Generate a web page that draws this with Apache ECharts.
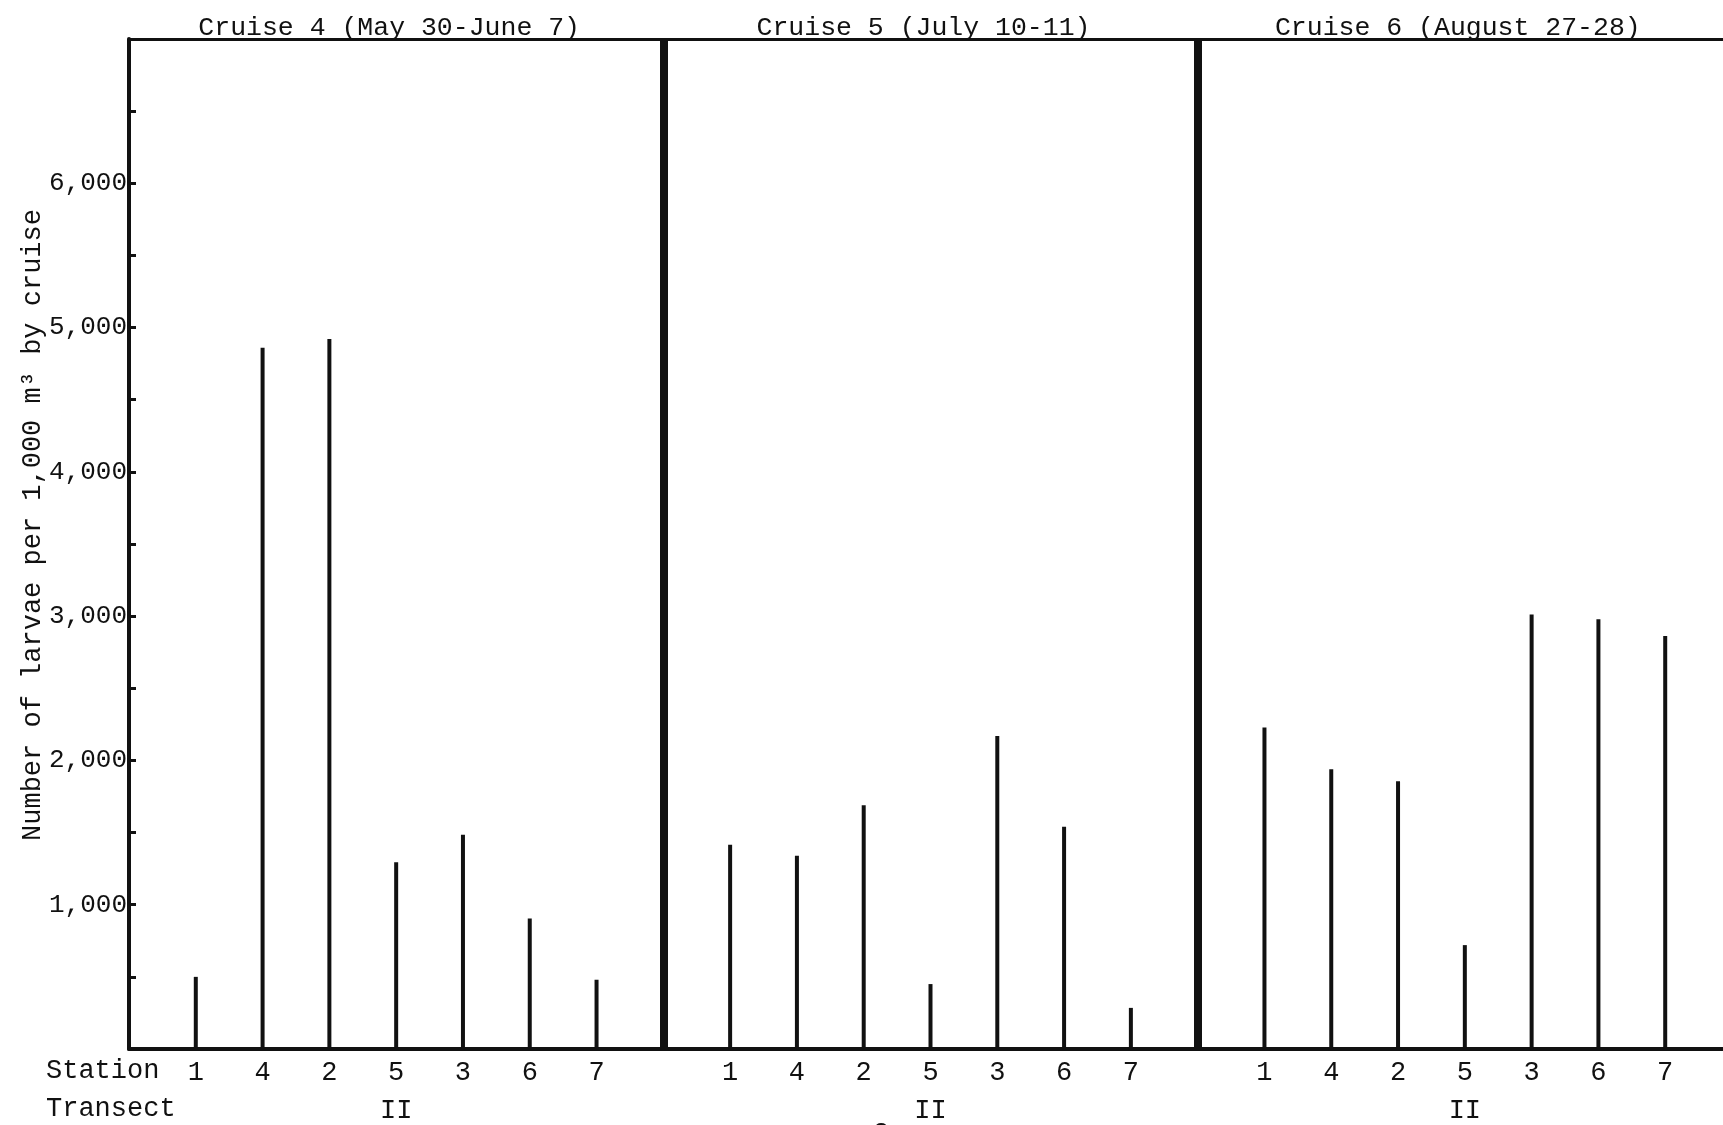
<!DOCTYPE html>
<html>
<head>
<meta charset="utf-8">
<title>Larvae per 1,000 m³ by cruise and station</title>
<script src="https://cdn.jsdelivr.net/npm/echarts@6/dist/echarts.min.js"></script>
<style>
  html, body { margin: 0; padding: 0; background: #fff; }
  #chart { width: 1723px; height: 1125px; }
</style>
</head>
<body>
<div id="chart"></div>
<script>
// Station order along Transect II, as sampled on every cruise
const stations = ['1', '4', '2', '5', '3', '6', '7'];
const transectLabel = 'II';
const transectStation = '5';

const cruiseTitles = [
  'Cruise 4 (May 30-June 7)',
  'Cruise 5 (July 10-11)',
  'Cruise 6 (August 27-28)'
];

// Larvae per 1,000 m3, in station order above
const cruise4 = [500, 4860, 4920, 1295, 1485, 905, 480];
const cruise5 = [1415, 1340, 1690, 450, 2170, 1540, 285];
const cruise6 = [2228, 1938, 1856, 720, 3012, 2978, 2862];

const yTicks = [1000, 2000, 3000, 4000, 5000, 6000];

const FONT = '"Liberation Mono", "DejaVu Sans Mono", monospace';
const INK = '#111';

// each cruise occupies 8 slots on the shared x scale: stations at slots 1..7
const SLOTS = stations.length + 1;
const cruises = [cruise4, cruise5, cruise6];

function seriesFor(values, ci) {
  return {
    name: cruiseTitles[ci],
    type: 'bar',
    barWidth: 4,
    barGap: '-100%',
    itemStyle: { color: INK },
    silent: true,
    data: values.map((v, si) => [ci * SLOTS + si + 1, v])
  };
}

const series = cruises.map(seriesFor);
// heavy rules separating the cruises
series[0].markLine = {
  silent: true,
  symbol: ['none', 'none'],
  label: { show: false },
  lineStyle: { color: INK, width: 8, type: 'solid' },
  data: [1, 2].map(k => ({ xAxis: k * SLOTS }))
};

function stationAt(v) {
  const r = v % SLOTS;
  return r === 0 ? '' : stations[r - 1];
}

const stationSlot = stations.indexOf(transectStation) + 1;
const titleSlot = Math.floor(SLOTS / 2);

const chart = echarts.init(document.getElementById('chart'), null, { renderer: 'canvas' });

chart.setOption({
  backgroundColor: '#fff',
  animation: false,
  textStyle: { fontFamily: FONT, color: INK },
  grid: {
    left: 129, top: 39, width: 1603, height: 1010,
    containLabel: false, outerBoundsMode: 'none'
  },
  xAxis: [
    {
      type: 'value', position: 'bottom', min: 0, max: SLOTS * 3, interval: 1,
      axisLine: { show: true, onZero: false, lineStyle: { color: INK, width: 4 } },
      axisTick: { show: false },
      splitLine: { show: false },
      axisLabel: {
        margin: 10, fontFamily: FONT, fontSize: 27, color: INK,
        showMinLabel: true, showMaxLabel: true,
        formatter: stationAt
      }
    },
    {
      type: 'value', position: 'bottom', offset: 38, min: 0, max: SLOTS * 3, interval: 1,
      axisLine: { show: false },
      axisTick: { show: false },
      splitLine: { show: false },
      axisLabel: {
        margin: 10, fontFamily: FONT, fontSize: 27, color: INK,
        formatter: v => (v % SLOTS === stationSlot ? transectLabel : '')
      }
    },
    {
      type: 'value', position: 'top', min: 0, max: SLOTS * 3, interval: 1,
      axisLine: { show: true, onZero: false, lineStyle: { color: INK, width: 3 } },
      axisTick: { show: false },
      splitLine: { show: false },
      axisLabel: {
        margin: -2, fontFamily: FONT, fontSize: 26.5, color: INK,
        padding: [0, 14, 0, 0],
        formatter: v => (v % SLOTS === titleSlot ? cruiseTitles[(v - titleSlot) / SLOTS] : '')
      }
    }
  ],
  yAxis: {
    type: 'value', min: 0, max: 7000, interval: 500,
    axisLine: { show: true, onZero: false, lineStyle: { color: INK, width: 4 } },
    axisTick: { show: true, inside: true, length: 7, lineStyle: { color: INK, width: 3 } },
    splitLine: { show: false },
    axisLabel: {
      margin: 2, fontFamily: FONT, fontSize: 26, color: INK,
      formatter: v => (yTicks.includes(v) ? v.toLocaleString('en-US') : '')
    }
  },
  graphic: [
    {
      type: 'text', x: 33, y: 525, rotation: Math.PI / 2,
      style: {
        text: 'Number of larvae per 1,000 m³ by cruise',
        font: '27px ' + FONT, fill: INK,
        align: 'center', verticalAlign: 'middle'
      }
    },
    {
      type: 'text', x: 46, y: 1071,
      style: { text: 'Station', font: '27px ' + FONT, fill: INK, align: 'left', verticalAlign: 'middle' }
    },
    {
      type: 'text', x: 46, y: 1109,
      style: { text: 'Transect', font: '27px ' + FONT, fill: INK, align: 'left', verticalAlign: 'middle' }
    },
    {
      type: 'text', x: 881, y: 1120,
      style: { text: '2', font: '27px ' + FONT, fill: INK, align: 'center', verticalAlign: 'top' }
    }
  ],
  series: series
});
</script>
</body>
</html>
